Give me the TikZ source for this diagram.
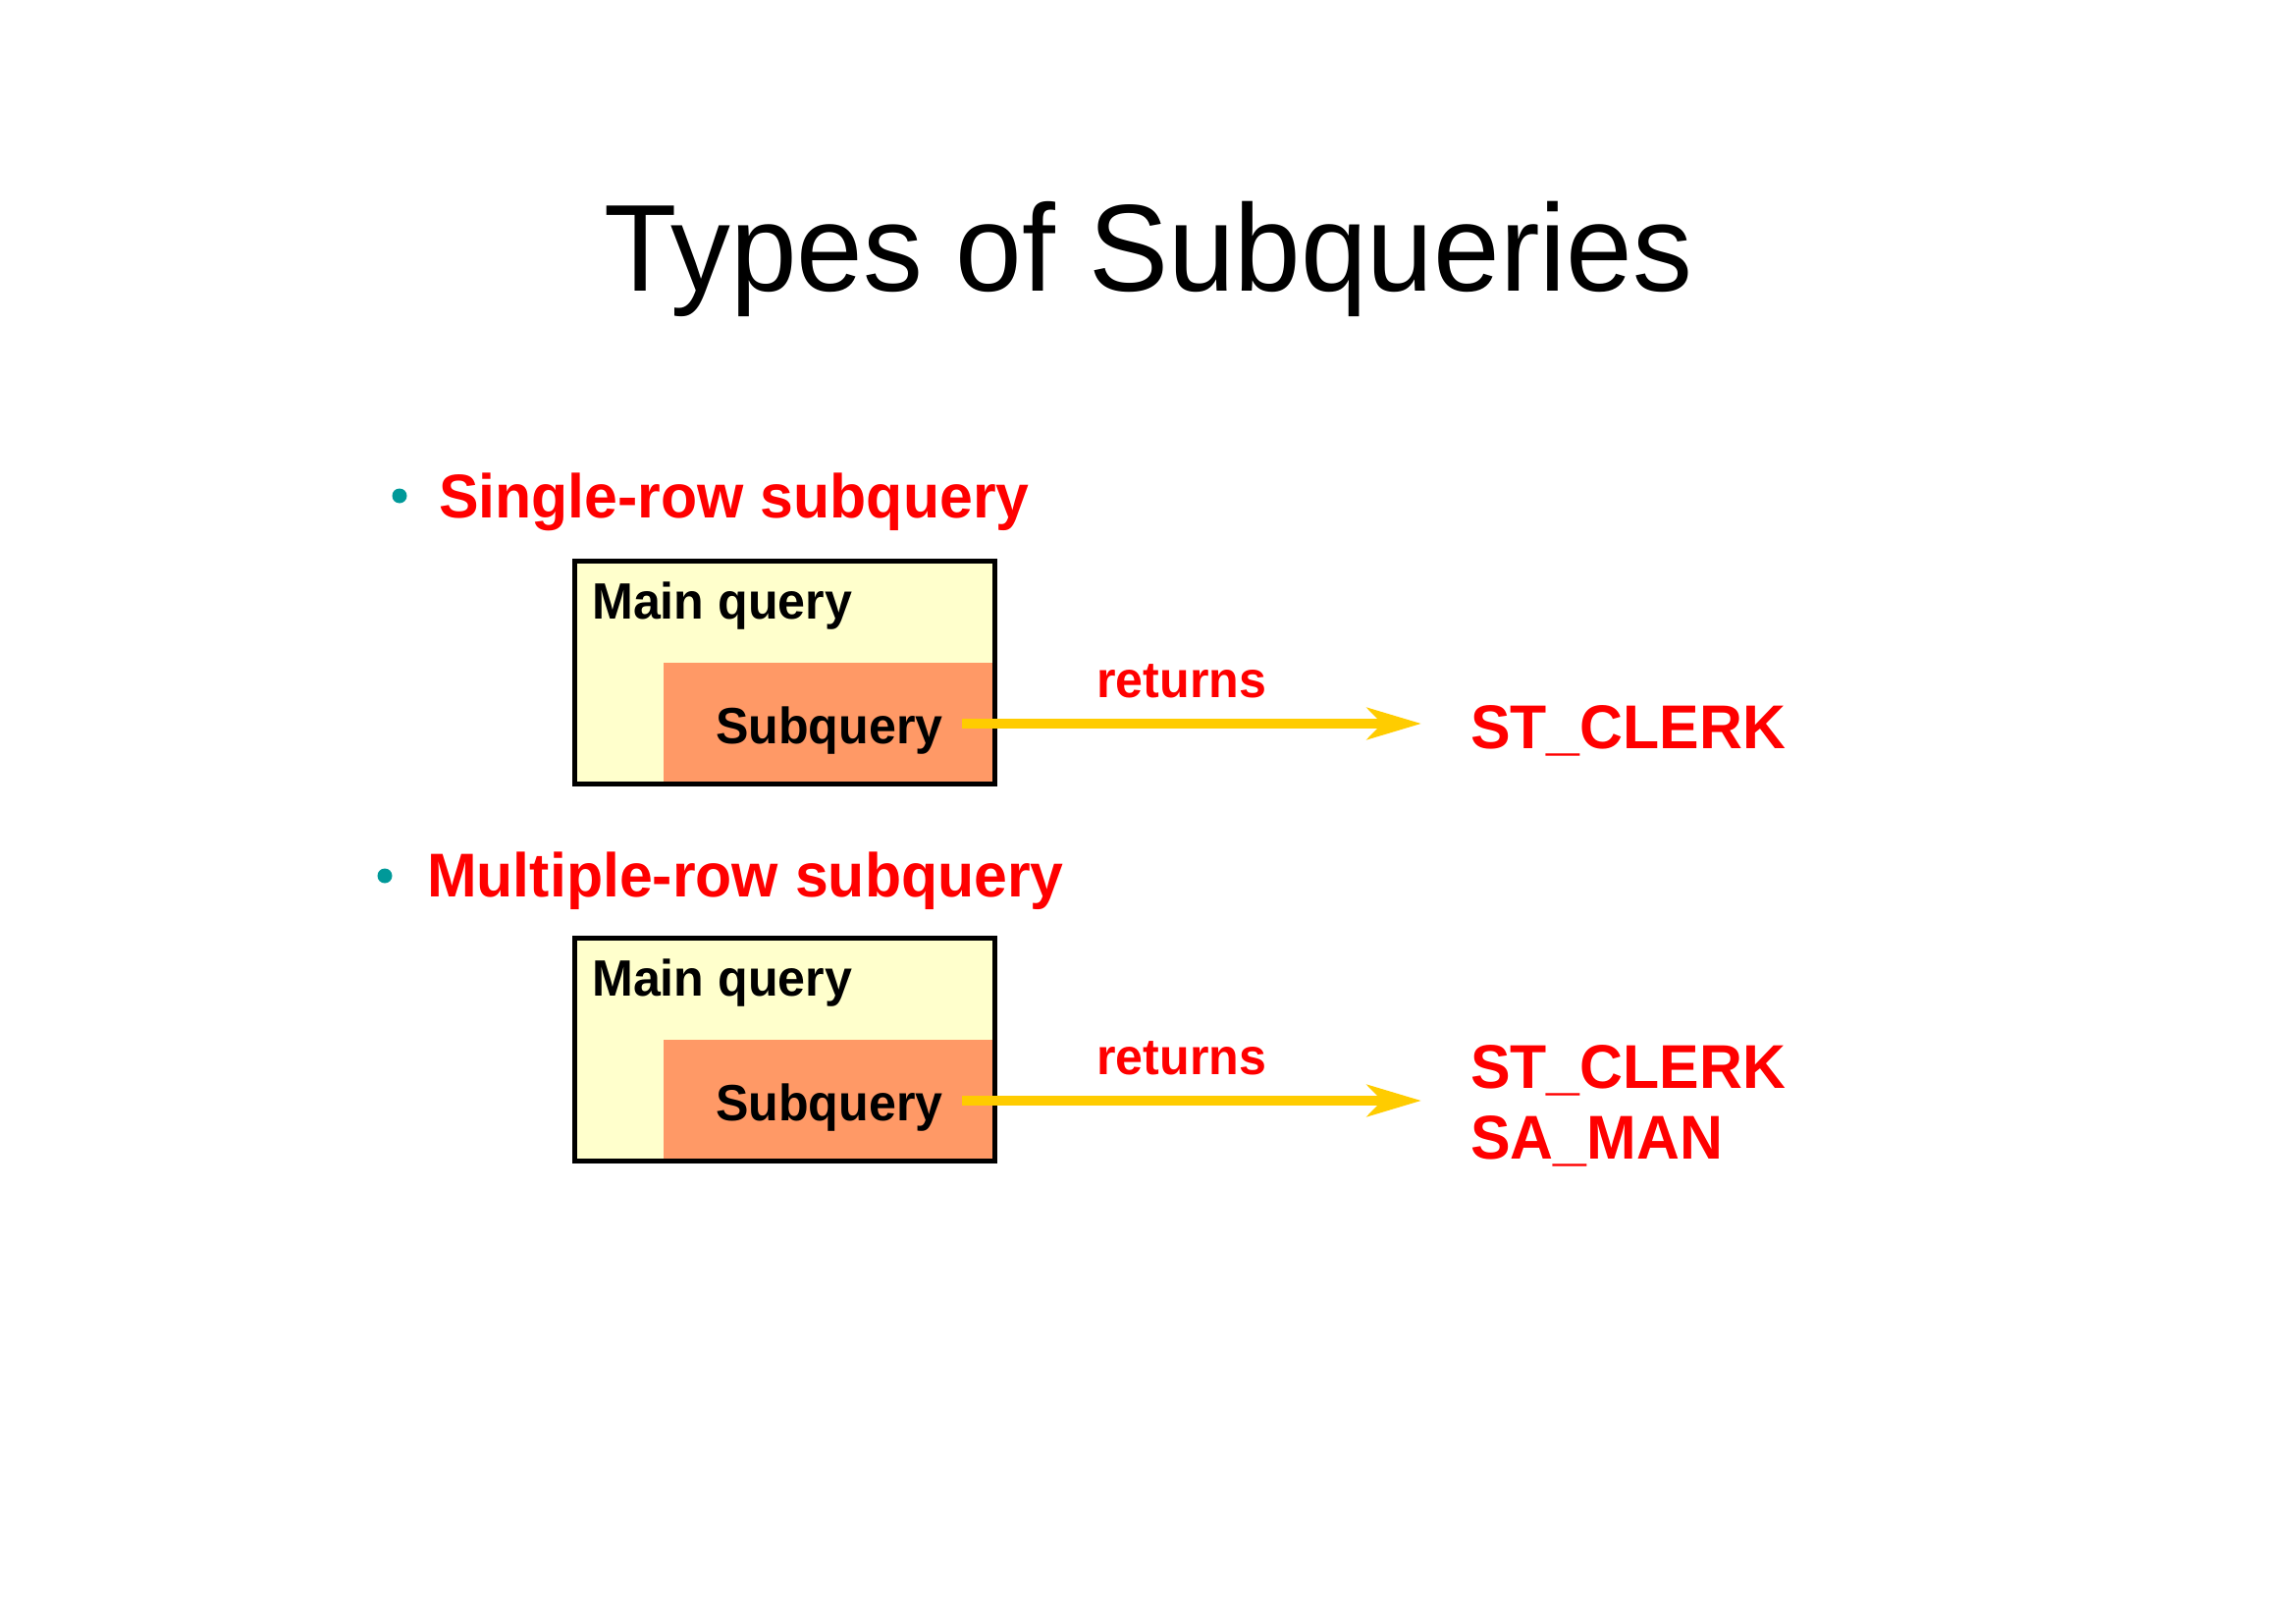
\documentclass[tikz,border=0pt]{standalone}
\usepackage{fontspec}
\setmainfont{Liberation Sans}[FakeStretch=0.965]
\usetikzlibrary{arrows.meta}
\definecolor{qred}{RGB}{255,0,0}
\definecolor{qteal}{RGB}{0,153,153}
\definecolor{qcream}{RGB}{255,255,204}
\definecolor{qorange}{RGB}{255,153,102}
\definecolor{qgold}{RGB}{255,204,0}

\begin{document}
\begin{tikzpicture}[x=1pt,y=-1pt,
  titletext/.style={inner sep=0pt, anchor=base, font=\fontsize{126}{150}\selectfont},
  headtext/.style={inner sep=0pt, anchor=base west, text=qred, font=\fontsize{63}{72}\selectfont\bfseries},
  dot/.style={circle, fill=qteal, inner sep=0pt, minimum size=15pt},
  mainbox/.style={draw=black, line width=5pt, fill=qcream, minimum width=428pt, minimum height=227pt, inner sep=0pt},
  subbox/.style={fill=qorange, inner sep=0pt, minimum width=335pt, minimum height=121pt, anchor=north west},
  boxtext/.style={inner sep=0pt, anchor=base west, font=\fontsize{52}{60}\selectfont\bfseries},
  labeltext/.style={boxtext, text=qred},
  returnarrow/.style={draw=qgold, line width=10pt, -{Stealth[length=55pt, width=32pt, inset=15pt]}},
]
\useasboundingbox (0,0) rectangle (2339,1653);

% title
\node[titletext] (title) at (1170,297) {Types of Subqueries};

% single-row subquery
\node[dot] (dot1) at (407,505) {};
\node[headtext] (head1) at (447,527) {Single-row subquery};
\node[mainbox] (main1) at (799.5,685) {};
\node[subbox] (sub1) at (676,675) {};
\node[boxtext] (main1t) at (603,630) {Main query};
\node[boxtext] (sub1t) at (729,757) {Subquery};
\node[labeltext] (ret1) at (1117,710) {returns};
\coordinate (a1s) at (980,737);
\coordinate (a1e) at (1448,737);
\draw[returnarrow] (a1s) -- (a1e);
\node[headtext] (res1) at (1498,762) {ST\_CLERK};

% multiple-row subquery
\node[dot] (dot2) at (392,892) {};
\node[headtext] (head2) at (435,913) {Multiple-row subquery};
\node[mainbox] (main2) at (799.5,1069) {};
\node[subbox] (sub2) at (676,1059) {};
\node[boxtext] (main2t) at (603,1014) {Main query};
\node[boxtext] (sub2t) at (729,1141) {Subquery};
\node[labeltext] (ret2) at (1117,1094) {returns};
\coordinate (a2s) at (980,1121);
\coordinate (a2e) at (1448,1121);
\draw[returnarrow] (a2s) -- (a2e);
\node[headtext] (res2a) at (1498,1108) {ST\_CLERK};
\node[headtext] (res2b) at (1498,1180) {SA\_MAN};
\end{tikzpicture}
\end{document}
